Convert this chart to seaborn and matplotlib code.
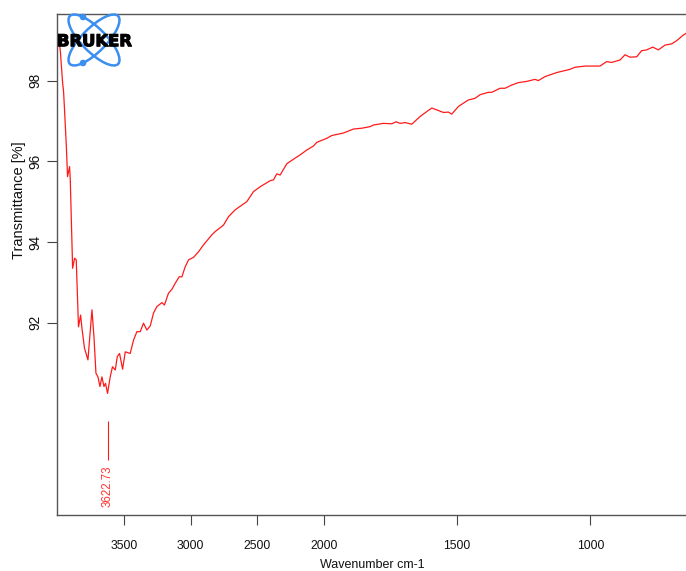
import numpy as np
import pandas as pd
import matplotlib
matplotlib.use("Agg")
import matplotlib.pyplot as plt
import matplotlib.patheffects as pe
from matplotlib.patches import Ellipse, Circle
import seaborn as sns

# IR spectrum: wavenumber (cm-1) and transmittance (%)
wavenumber = [
    3990, 3976, 3960, 3953, 3947, 3932, 3923, 3908, 3903, 3885,
    3870, 3858, 3841, 3825, 3815, 3796, 3770, 3740, 3725, 3710,
    3695, 3680, 3665, 3650, 3638, 3623, 3603, 3586, 3565, 3550,
    3533, 3510, 3490, 3453, 3428, 3403, 3378, 3353, 3328, 3303,
    3278, 3253, 3215, 3196, 3166, 3140, 3115, 3085, 3065, 3040,
    3015, 2978, 2940, 2903, 2840, 2815, 2753, 2715, 2665, 2578,
    2528, 2478, 2403, 2378, 2353, 2328, 2278, 2215, 2178, 2128,
    2078, 2053, 1989, 1970, 1927, 1889, 1858, 1826, 1814, 1777,
    1745, 1729, 1714, 1695, 1683, 1670, 1639, 1608, 1595, 1551,
    1533, 1520, 1495, 1458, 1433, 1414, 1383, 1370, 1339, 1320,
    1295, 1270, 1239, 1208, 1195, 1170, 1126, 1076, 1058, 1020,
    964, 939, 920, 889, 870, 851, 826, 808, 789, 766,
    745, 720, 695, 676, 651, 641, 630,
]
transmittance = [
    99.15, 98.68, 97.94, 97.73, 97.36, 96.36, 95.62, 95.87, 95.58, 93.35,
    93.60, 93.56, 91.90, 92.19, 91.86, 91.37, 91.08, 92.32, 91.66, 90.75,
    90.66, 90.42, 90.66, 90.42, 90.50, 90.25, 90.66, 90.91, 90.83, 91.16,
    91.24, 90.85, 91.28, 91.24, 91.57, 91.78, 91.78, 91.99, 91.82, 91.92,
    92.24, 92.40, 92.50, 92.44, 92.73, 92.83, 92.98, 93.14, 93.14, 93.39,
    93.56, 93.62, 93.76, 93.93, 94.18, 94.26, 94.42, 94.63, 94.80, 95.00,
    95.25, 95.37, 95.52, 95.54, 95.69, 95.66, 95.94, 96.08, 96.16, 96.28,
    96.38, 96.47, 96.57, 96.64, 96.70, 96.80, 96.82, 96.86, 96.90, 96.94,
    96.93, 96.98, 96.94, 96.96, 96.94, 96.92, 97.11, 97.26, 97.32, 97.21,
    97.22, 97.17, 97.36, 97.52, 97.56, 97.65, 97.71, 97.71, 97.81, 97.81,
    97.89, 97.95, 97.98, 98.03, 98.00, 98.10, 98.20, 98.28, 98.33, 98.36,
    98.36, 98.47, 98.45, 98.51, 98.64, 98.58, 98.59, 98.74, 98.76, 98.83,
    98.76, 98.88, 98.91, 98.99, 99.13, 99.17, 99.20,
]

peak_wavenumber = 3622.73
x_ticks = [3500, 3000, 2500, 2000, 1500, 1000]
y_ticks = [92, 94, 96, 98]

sns.set_theme(style="white")
plt.rcParams["font.family"] = ["Liberation Sans", "DejaVu Sans"]

W, H = 686, 571
fig = plt.figure(figsize=(W / 100, H / 100), dpi=100)


def px_box(left, top, right, bottom):
    return [left / W, 1 - bottom / H, (right - left) / W, (bottom - top) / H]


ax = fig.add_axes(px_box(57.3, 14, 697, 515.3))


# wavenumber axis: region above 2000 cm-1 compressed by a factor of two
def fwd(w):
    w = np.asarray(w, dtype=float)
    return np.where(w > 2000, 2000 + (w - 2000) / 2, w)


def inv(p):
    p = np.asarray(p, dtype=float)
    return np.where(p > 2000, 2000 + (p - 2000) * 2, p)


ax.set_xscale("function", functions=(fwd, inv))

df = pd.DataFrame({"wavenumber": wavenumber, "transmittance": transmittance})
sns.lineplot(data=df, x="wavenumber", y="transmittance", sort=False,
             estimator=None, color="#ff1a1a", lw=0.9, ax=ax)

ax.set_xlim(4000, 600)
ax.set_ylim(87.23, 99.65)
ax.set_xticks(x_ticks)
ax.set_xticklabels([str(t) for t in x_ticks])
ax.set_yticks(y_ticks)
ax.set_yticklabels([str(t) for t in y_ticks])
ax.minorticks_off()
ax.set_xlabel("")
ax.set_ylabel("")

for side in ["left", "bottom", "top", "right"]:
    ax.spines[side].set_color("#555555")
    ax.spines[side].set_linewidth(1.0)

ax.tick_params(axis="x", bottom=True, direction="out", length=7, width=0.8,
               color="#444444", labelsize=8.8, labelcolor="#111111", pad=11)
ax.tick_params(axis="y", left=True, direction="out", length=7, width=0.8,
               color="#444444", labelsize=9.8, labelcolor="#111111", pad=4)
plt.setp(ax.get_yticklabels(), rotation=90, va="center")

# peak marker
ax.vlines(peak_wavenumber, 88.6, 89.57, color="#ff1a1a", lw=0.8)
ax.text(peak_wavenumber, 88.47, f"{peak_wavenumber:.2f}", rotation=90,
        ha="center", va="top", color="#ff3030", fontsize=8.3)

fig.text(372 / W, 1 - 565 / H, "Wavenumber cm-1", ha="center", va="center",
         fontsize=9, color="#111111")
fig.text(19 / W, 1 - 200 / H, "Transmittance [%]", ha="center", va="center",
         rotation=90, fontsize=10.5, color="#111111")

# logo overlay in pixel coordinates
lax = fig.add_axes([0, 0, 1, 1])
lax.set_xlim(0, W)
lax.set_ylim(H, 0)
lax.axis("off")
blue = "#3a8ff0"
for ang in (45, -45):
    lax.add_patch(Ellipse((94, 40), width=68, height=24, angle=ang,
                          fill=False, edgecolor=blue, lw=1.8))
lax.add_patch(Circle((83, 17), 2.6, color=blue))
lax.add_patch(Circle((83, 63), 2.6, color=blue))
lax.text(94.5, 41.7, "BRUKER", ha="center", va="center", fontsize=11.8,
         fontweight="bold", color="black", family=["DejaVu Sans"],
         path_effects=[pe.withStroke(linewidth=0.8, foreground="black")])

fig.savefig("out.png", dpi=100, facecolor="white")
